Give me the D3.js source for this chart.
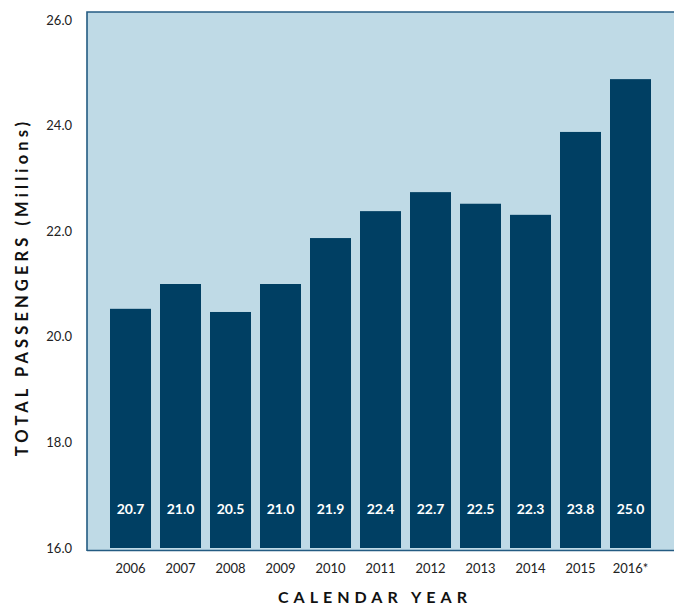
<!DOCTYPE html>
<html>
<head>
<meta charset="utf-8">
<script src="https://cdn.jsdelivr.net/npm/d3@7"></script>
<style>
  html, body { margin: 0; padding: 0; background: #ffffff; }
  svg { display: block; }
</style>
</head>
<body>
<svg id="chart" width="674" height="608"></svg>
<script>
const years = ["2006","2007","2008","2009","2010","2011","2012","2013","2014","2015","2016*"];
const barValues = [20.53, 21.0, 20.47, 21.0, 21.87, 22.38, 22.74, 22.52, 22.31, 23.88, 24.88];
const valueLabels = ["20.7","21.0","20.5","21.0","21.9","22.4","22.7","22.5","22.3","23.8","25.0"];
const yTicks = [16, 18, 20, 22, 24, 26];
const yTitle = "TOTAL PASSENGERS (Millions)";
const xTitle = "CALENDAR YEAR";

const svg = d3.select("#chart");
const font = "Lato, 'Open Sans', sans-serif";

const x = d3.scaleBand().domain(years).range([105.5, 655.5]).paddingInner(0.18).paddingOuter(0.09);
const y = d3.scaleLinear().domain([16, 26]).range([548, 20]);

// plot background
svg.append("rect").attr("x", 87).attr("y", 12).attr("width", 674 - 87 + 2).attr("height", 551 - 12)
  .attr("fill", "#bfdae6");

// bars
svg.selectAll("rect.bar").data(years).join("rect").attr("class", "bar")
  .attr("x", d => x(d))
  .attr("width", x.bandwidth())
  .attr("y", (d, i) => y(barValues[i]))
  .attr("height", (d, i) => y(16) - y(barValues[i]))
  .attr("fill", "#003f63");

// frame lines
svg.append("path").attr("d", "M87,551 L87,12 L676,12").attr("fill", "none")
  .attr("stroke", "#245b82").attr("stroke-width", 1.6);
svg.append("line").attr("x1", 87).attr("x2", 676).attr("y1", 550.5).attr("y2", 550.5)
  .attr("stroke", "#245b82").attr("stroke-width", 1.6);

// value labels
svg.selectAll("text.val").data(years).join("text").attr("class", "val")
  .attr("x", d => x(d) + x.bandwidth() / 2)
  .attr("y", 513.5)
  .attr("text-anchor", "middle")
  .attr("font-family", font).attr("font-weight", "bold").attr("font-size", 14)
  .attr("fill", "#ffffff")
  .text((d, i) => valueLabels[i]);

// y axis (labels only)
const yAxis = d3.axisLeft(y).tickValues(yTicks).tickFormat(d3.format(".1f")).tickSize(0).tickPadding(0);
const gy = svg.append("g").attr("transform", "translate(72,0)").call(yAxis);
gy.select(".domain").remove();
gy.selectAll("text").attr("font-family", font).attr("font-size", 13).attr("fill", "#222");

// x axis (labels only)
const xAxis = d3.axisBottom(x).tickSize(0).tickPadding(0);
const gx = svg.append("g").attr("transform", "translate(0,564)").call(xAxis);
gx.select(".domain").remove();
gx.selectAll("text").attr("font-family", font).attr("font-size", 13).attr("fill", "#222");

// axis titles
svg.append("text").attr("transform", "translate(28,287) rotate(-90)")
  .attr("text-anchor", "middle")
  .attr("font-family", font).attr("font-weight", "bold").attr("font-size", 16.5)
  .attr("letter-spacing", 4.1).attr("fill", "#111")
  .text(yTitle);

svg.append("text").attr("x", 375).attr("y", 603)
  .attr("text-anchor", "middle")
  .attr("font-family", font).attr("font-weight", "bold").attr("font-size", 16)
  .attr("letter-spacing", 5).attr("fill", "#111")
  .text(xTitle);
</script>
</body>
</html>
